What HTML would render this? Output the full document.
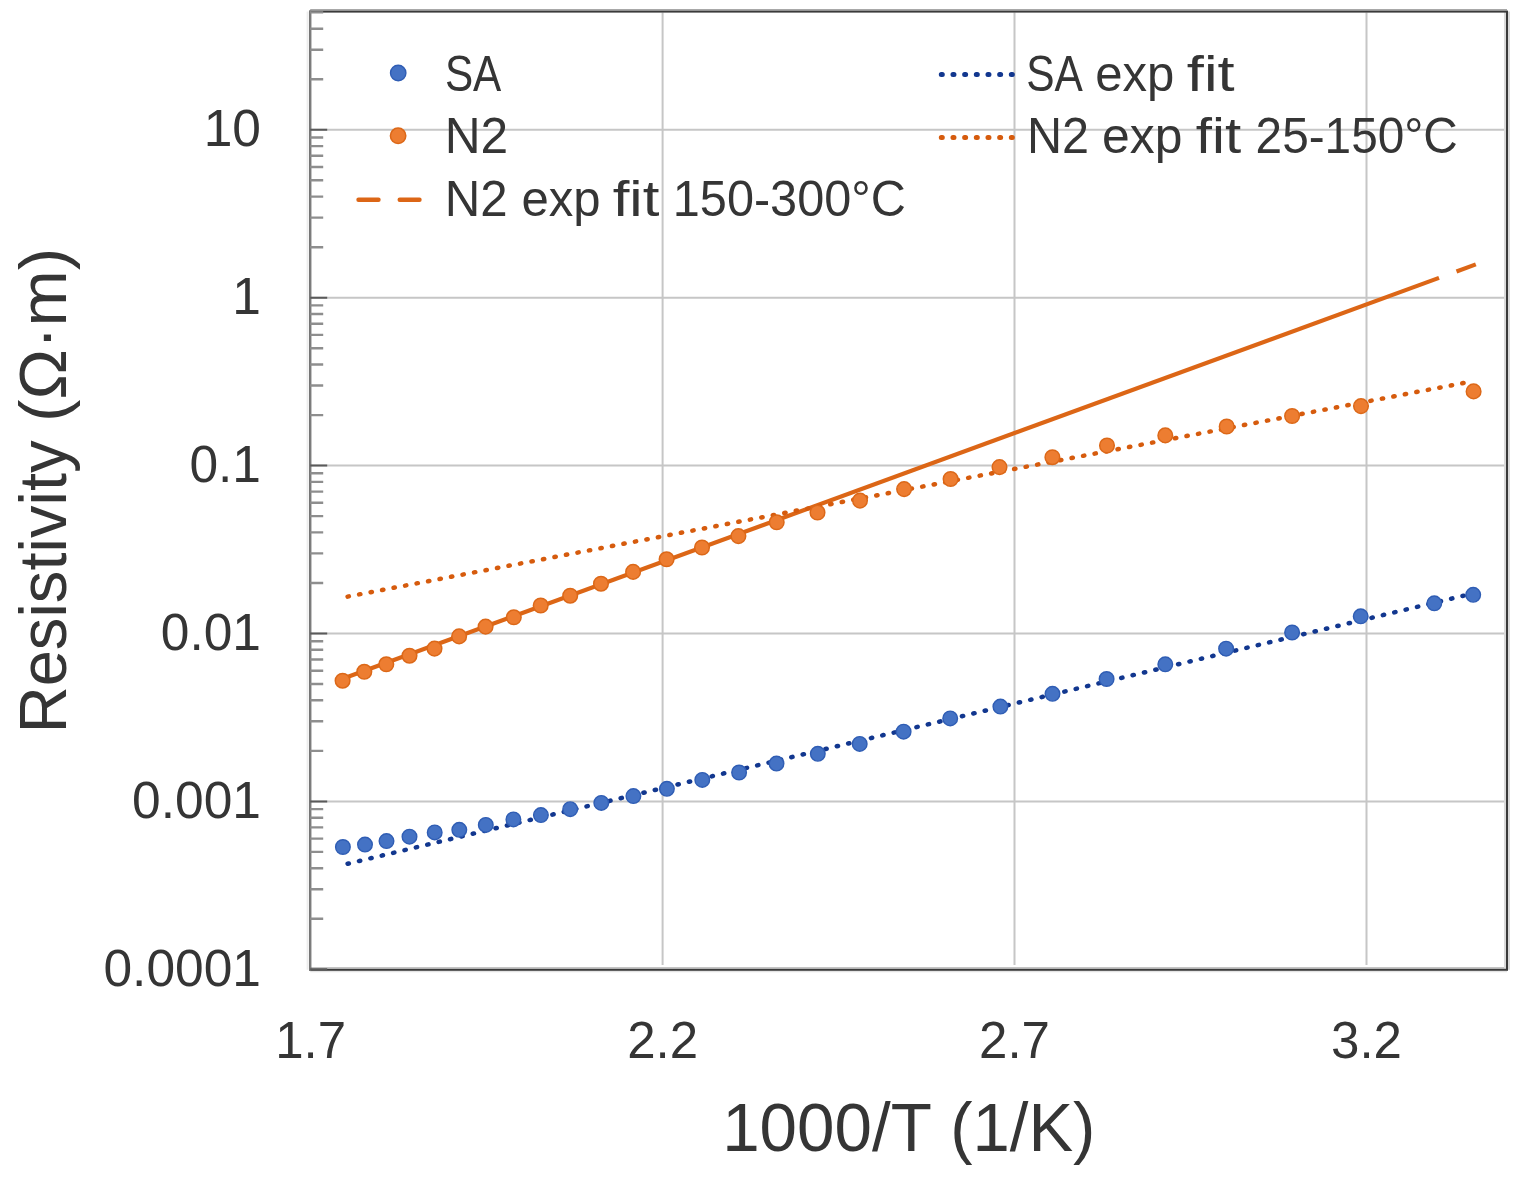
<!DOCTYPE html>
<html lang="en"><head><meta charset="utf-8"><title>Resistivity vs 1000/T</title>
<style>html,body{margin:0;padding:0;background:#fff;overflow:hidden;}svg{display:block;}text{font-family:"Liberation Sans",sans-serif;fill:#353535;}</style></head><body>
<svg xmlns="http://www.w3.org/2000/svg" width="1525" height="1183" viewBox="0 0 1525 1183">
<rect width="1525" height="1183" fill="#fff"/>
<path d="M310.2 801.4H1504.0 M310.2 633.5H1504.0 M310.2 465.6H1504.0 M310.2 297.7H1504.0 M310.2 129.8H1504.0 M662.6 12.6V965.0 M1014.5 12.6V965.0 M1366.5 12.6V965.0" stroke="#C6C6C6" stroke-width="2" fill="none"/>
<path d="M310.2 967.9H1507.0" stroke="#C4C4C4" stroke-width="1.8" fill="none"/>
<path d="M310.2 971.5H1507.0" stroke="#E4E4E4" stroke-width="1.4" fill="none"/>
<path d="M1507.0 11.6V969.8" stroke="#DADADA" stroke-width="6" fill="none"/>
<path d="M310.2 9.8H1507.0" stroke="#A8A8A8" stroke-width="1.4" fill="none"/>
<rect x="310.2" y="11.6" width="1196.8" height="958.2" fill="none" stroke="#3A3A3A" stroke-width="2"/>
<path d="M307.6 11.6V969.8" stroke="#EDEDED" stroke-width="2" fill="none"/>
<path d="M310.2 10.6V970.8" stroke="#7C7C7C" stroke-width="2" fill="none"/>
<path d="M310.2 918.8H323.2 M310.2 889.2H323.2 M310.2 868.2H323.2 M310.2 851.9H323.2 M310.2 838.6H323.2 M310.2 827.4H323.2 M310.2 817.7H323.2 M310.2 809.1H323.2 M310.2 750.9H323.2 M310.2 721.3H323.2 M310.2 700.3H323.2 M310.2 684.0H323.2 M310.2 670.7H323.2 M310.2 659.5H323.2 M310.2 649.8H323.2 M310.2 641.2H323.2 M310.2 583.0H323.2 M310.2 553.4H323.2 M310.2 532.4H323.2 M310.2 516.1H323.2 M310.2 502.8H323.2 M310.2 491.6H323.2 M310.2 481.9H323.2 M310.2 473.3H323.2 M310.2 415.1H323.2 M310.2 385.5H323.2 M310.2 364.5H323.2 M310.2 348.2H323.2 M310.2 334.9H323.2 M310.2 323.7H323.2 M310.2 314.0H323.2 M310.2 305.4H323.2 M310.2 247.2H323.2 M310.2 217.6H323.2 M310.2 196.6H323.2 M310.2 180.3H323.2 M310.2 167.0H323.2 M310.2 155.8H323.2 M310.2 146.1H323.2 M310.2 137.5H323.2 M310.2 79.3H323.2 M310.2 49.7H323.2 M310.2 28.7H323.2 M310.2 12.4H323.2" stroke="#8E8E8E" stroke-width="2.4" fill="none"/>
<path d="M310.2 969.3H327.2 M310.2 801.4H327.2 M310.2 633.5H327.2 M310.2 465.6H327.2 M310.2 297.7H327.2 M310.2 129.8H327.2" stroke="#5A5A5A" stroke-width="2" fill="none"/>
<path d="M342.6 678.8L1439.0 277.9" fill="none" stroke="#DC6616" stroke-width="4.2"/>
<path d="M1456.5 271.5L1475.8 264.4" fill="none" stroke="#DC6616" stroke-width="4.2"/>
<path d="M347.6 863.8L1473.2 593.4" fill="none" stroke="#12378F" stroke-width="4.5" stroke-dasharray="1.3 10.4" stroke-linecap="round"/>
<path d="M347.6 596.6L1473.6 381.1" fill="none" stroke="#D65B0D" stroke-width="4.5" stroke-dasharray="1.3 10.4" stroke-linecap="round"/>
<circle cx="342.6" cy="680.7" r="7.3" fill="#ED7D31" stroke="#DC6818" stroke-width="1.5"/>
<circle cx="364.3" cy="671.8" r="7.3" fill="#ED7D31" stroke="#DC6818" stroke-width="1.5"/>
<circle cx="386.3" cy="664.3" r="7.3" fill="#ED7D31" stroke="#DC6818" stroke-width="1.5"/>
<circle cx="409.5" cy="655.7" r="7.3" fill="#ED7D31" stroke="#DC6818" stroke-width="1.5"/>
<circle cx="434.5" cy="648.6" r="7.3" fill="#ED7D31" stroke="#DC6818" stroke-width="1.5"/>
<circle cx="459.1" cy="636.4" r="7.3" fill="#ED7D31" stroke="#DC6818" stroke-width="1.5"/>
<circle cx="485.6" cy="626.6" r="7.3" fill="#ED7D31" stroke="#DC6818" stroke-width="1.5"/>
<circle cx="513.8" cy="617.3" r="7.3" fill="#ED7D31" stroke="#DC6818" stroke-width="1.5"/>
<circle cx="540.7" cy="605.5" r="7.3" fill="#ED7D31" stroke="#DC6818" stroke-width="1.5"/>
<circle cx="570.2" cy="595.7" r="7.3" fill="#ED7D31" stroke="#DC6818" stroke-width="1.5"/>
<circle cx="601.0" cy="583.7" r="7.3" fill="#ED7D31" stroke="#DC6818" stroke-width="1.5"/>
<circle cx="633.1" cy="571.9" r="7.3" fill="#ED7D31" stroke="#DC6818" stroke-width="1.5"/>
<circle cx="666.6" cy="559.3" r="7.3" fill="#ED7D31" stroke="#DC6818" stroke-width="1.5"/>
<circle cx="702.0" cy="547.5" r="7.3" fill="#ED7D31" stroke="#DC6818" stroke-width="1.5"/>
<circle cx="738.4" cy="536.1" r="7.3" fill="#ED7D31" stroke="#DC6818" stroke-width="1.5"/>
<circle cx="776.7" cy="522.3" r="7.3" fill="#ED7D31" stroke="#DC6818" stroke-width="1.5"/>
<circle cx="817.5" cy="512.5" r="7.3" fill="#ED7D31" stroke="#DC6818" stroke-width="1.5"/>
<circle cx="860.0" cy="500.6" r="7.3" fill="#ED7D31" stroke="#DC6818" stroke-width="1.5"/>
<circle cx="904.1" cy="489.1" r="7.3" fill="#ED7D31" stroke="#DC6818" stroke-width="1.5"/>
<circle cx="950.6" cy="479.0" r="7.3" fill="#ED7D31" stroke="#DC6818" stroke-width="1.5"/>
<circle cx="999.5" cy="467.1" r="7.3" fill="#ED7D31" stroke="#DC6818" stroke-width="1.5"/>
<circle cx="1052.4" cy="457.2" r="7.3" fill="#ED7D31" stroke="#DC6818" stroke-width="1.5"/>
<circle cx="1107.0" cy="445.5" r="7.3" fill="#ED7D31" stroke="#DC6818" stroke-width="1.5"/>
<circle cx="1165.3" cy="435.4" r="7.3" fill="#ED7D31" stroke="#DC6818" stroke-width="1.5"/>
<circle cx="1226.7" cy="426.5" r="7.3" fill="#ED7D31" stroke="#DC6818" stroke-width="1.5"/>
<circle cx="1292.1" cy="416.0" r="7.3" fill="#ED7D31" stroke="#DC6818" stroke-width="1.5"/>
<circle cx="1361.0" cy="406.1" r="7.3" fill="#ED7D31" stroke="#DC6818" stroke-width="1.5"/>
<circle cx="1473.6" cy="391.4" r="7.3" fill="#ED7D31" stroke="#DC6818" stroke-width="1.5"/>
<circle cx="342.9" cy="847.0" r="7.3" fill="#4472C4" stroke="#2F5DB4" stroke-width="1.4"/>
<circle cx="365.0" cy="844.6" r="7.3" fill="#4472C4" stroke="#2F5DB4" stroke-width="1.4"/>
<circle cx="386.5" cy="841.1" r="7.3" fill="#4472C4" stroke="#2F5DB4" stroke-width="1.4"/>
<circle cx="409.5" cy="836.7" r="7.3" fill="#4472C4" stroke="#2F5DB4" stroke-width="1.4"/>
<circle cx="434.7" cy="832.4" r="7.3" fill="#4472C4" stroke="#2F5DB4" stroke-width="1.4"/>
<circle cx="459.3" cy="829.8" r="7.3" fill="#4472C4" stroke="#2F5DB4" stroke-width="1.4"/>
<circle cx="485.8" cy="824.9" r="7.3" fill="#4472C4" stroke="#2F5DB4" stroke-width="1.4"/>
<circle cx="513.4" cy="819.4" r="7.3" fill="#4472C4" stroke="#2F5DB4" stroke-width="1.4"/>
<circle cx="540.9" cy="815.1" r="7.3" fill="#4472C4" stroke="#2F5DB4" stroke-width="1.4"/>
<circle cx="570.2" cy="809.2" r="7.3" fill="#4472C4" stroke="#2F5DB4" stroke-width="1.4"/>
<circle cx="601.3" cy="802.9" r="7.3" fill="#4472C4" stroke="#2F5DB4" stroke-width="1.4"/>
<circle cx="633.4" cy="796.1" r="7.3" fill="#4472C4" stroke="#2F5DB4" stroke-width="1.4"/>
<circle cx="666.9" cy="788.8" r="7.3" fill="#4472C4" stroke="#2F5DB4" stroke-width="1.4"/>
<circle cx="702.3" cy="779.9" r="7.3" fill="#4472C4" stroke="#2F5DB4" stroke-width="1.4"/>
<circle cx="739.1" cy="772.5" r="7.3" fill="#4472C4" stroke="#2F5DB4" stroke-width="1.4"/>
<circle cx="776.5" cy="763.6" r="7.3" fill="#4472C4" stroke="#2F5DB4" stroke-width="1.4"/>
<circle cx="817.8" cy="753.8" r="7.3" fill="#4472C4" stroke="#2F5DB4" stroke-width="1.4"/>
<circle cx="859.7" cy="743.9" r="7.3" fill="#4472C4" stroke="#2F5DB4" stroke-width="1.4"/>
<circle cx="903.6" cy="731.7" r="7.3" fill="#4472C4" stroke="#2F5DB4" stroke-width="1.4"/>
<circle cx="950.2" cy="718.4" r="7.3" fill="#4472C4" stroke="#2F5DB4" stroke-width="1.4"/>
<circle cx="1000.4" cy="706.6" r="7.3" fill="#4472C4" stroke="#2F5DB4" stroke-width="1.4"/>
<circle cx="1052.5" cy="693.8" r="7.3" fill="#4472C4" stroke="#2F5DB4" stroke-width="1.4"/>
<circle cx="1106.6" cy="679.0" r="7.3" fill="#4472C4" stroke="#2F5DB4" stroke-width="1.4"/>
<circle cx="1165.3" cy="664.3" r="7.3" fill="#4472C4" stroke="#2F5DB4" stroke-width="1.4"/>
<circle cx="1226.1" cy="648.7" r="7.3" fill="#4472C4" stroke="#2F5DB4" stroke-width="1.4"/>
<circle cx="1292.1" cy="632.5" r="7.3" fill="#4472C4" stroke="#2F5DB4" stroke-width="1.4"/>
<circle cx="1360.7" cy="616.3" r="7.3" fill="#4472C4" stroke="#2F5DB4" stroke-width="1.4"/>
<circle cx="1434.3" cy="603.3" r="7.3" fill="#4472C4" stroke="#2F5DB4" stroke-width="1.4"/>
<circle cx="1473.2" cy="594.8" r="7.3" fill="#4472C4" stroke="#2F5DB4" stroke-width="1.4"/>
<text x="261" y="146.1" font-size="51.5" text-anchor="end">10</text>
<text x="261" y="314.1" font-size="51.5" text-anchor="end">1</text>
<text x="261" y="482.0" font-size="51.5" text-anchor="end">0.1</text>
<text x="261" y="650.0" font-size="51.5" text-anchor="end">0.01</text>
<text x="261" y="817.9" font-size="51.5" text-anchor="end">0.001</text>
<text x="261" y="985.7" font-size="51.5" text-anchor="end">0.0001</text>
<text x="310.6" y="1057.5" font-size="51" text-anchor="middle">1.7</text>
<text x="662.6" y="1057.5" font-size="51" text-anchor="middle">2.2</text>
<text x="1014.5" y="1057.5" font-size="51" text-anchor="middle">2.7</text>
<text x="1366.5" y="1057.5" font-size="51" text-anchor="middle">3.2</text>
<text x="722.15" y="1150.6" font-size="68" textLength="209.64" lengthAdjust="spacingAndGlyphs">1000/T</text>
<text x="950.26" y="1150.6" font-size="68" textLength="145.13" lengthAdjust="spacingAndGlyphs">(1/K)</text>
<text transform="rotate(-90)" x="-733.36" y="65.9" font-size="67" textLength="292.99" lengthAdjust="spacingAndGlyphs">Resistivity</text>
<text transform="rotate(-90)" x="-422.04" y="65.9" font-size="67" textLength="174.42" lengthAdjust="spacingAndGlyphs">(Ω·m)</text>
<text x="444.91" y="90.6" font-size="50" textLength="56.38" lengthAdjust="spacingAndGlyphs">SA</text>
<text x="444.63" y="153.0" font-size="50" textLength="63.47" lengthAdjust="spacingAndGlyphs">N2</text>
<text x="444.76" y="215.9" font-size="50" textLength="62.91" lengthAdjust="spacingAndGlyphs">N2</text>
<text x="521.44" y="215.9" font-size="50" textLength="79.16" lengthAdjust="spacingAndGlyphs">exp</text>
<text x="612.70" y="215.9" font-size="50" textLength="46.69" lengthAdjust="spacingAndGlyphs">fit</text>
<text x="672.81" y="215.9" font-size="50" textLength="233.03" lengthAdjust="spacingAndGlyphs">150-300°C</text>
<text x="1026.20" y="90.6" font-size="50" textLength="56.59" lengthAdjust="spacingAndGlyphs">SA</text>
<text x="1095.14" y="90.6" font-size="50" textLength="79.16" lengthAdjust="spacingAndGlyphs">exp</text>
<text x="1186.87" y="90.6" font-size="50" textLength="47.81" lengthAdjust="spacingAndGlyphs">fit</text>
<text x="1027.01" y="153.0" font-size="50" textLength="62.13" lengthAdjust="spacingAndGlyphs">N2</text>
<text x="1102.11" y="153.0" font-size="50" textLength="80.31" lengthAdjust="spacingAndGlyphs">exp</text>
<text x="1195.83" y="153.0" font-size="50" textLength="45.36" lengthAdjust="spacingAndGlyphs">fit</text>
<text x="1255.59" y="153.0" font-size="50" textLength="202.23" lengthAdjust="spacingAndGlyphs">25-150°C</text>
<circle cx="398.2" cy="73.0" r="7.7" fill="#4472C4" stroke="#2F5DB4" stroke-width="1.4"/>
<circle cx="398.1" cy="135.8" r="7.7" fill="#ED7D31" stroke="#DC6818" stroke-width="1.5"/>
<path d="M358.5 199.8H378.5M399.7 199.8H419.5" stroke="#DC6616" stroke-width="4.4" stroke-linecap="round" fill="none"/>
<path d="M941.3 74.5H1014.3" stroke="#12378F" stroke-width="5" stroke-dasharray="1 10.67" stroke-linecap="round" fill="none"/>
<path d="M941.3 137.5H1014.3" stroke="#D65B0D" stroke-width="5" stroke-dasharray="1 10.67" stroke-linecap="round" fill="none"/>
</svg></body></html>
